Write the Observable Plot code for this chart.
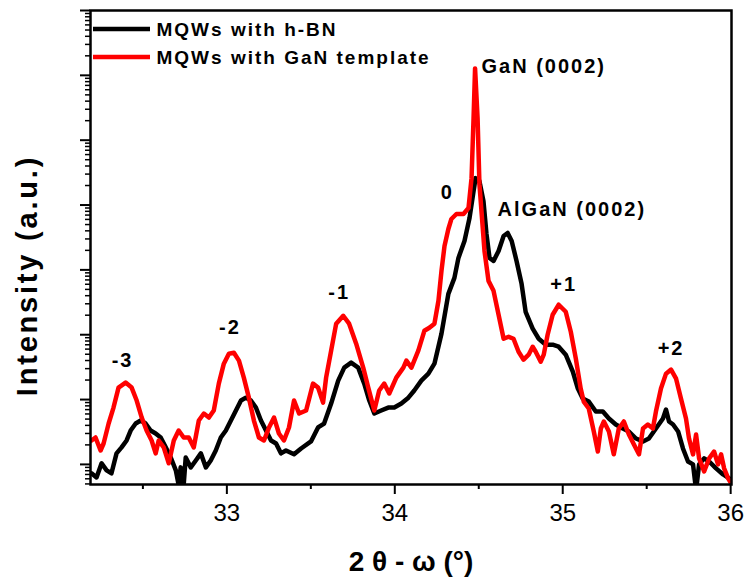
<!DOCTYPE html>
<html><head><meta charset="utf-8">
<script src="https://cdn.jsdelivr.net/npm/d3@7"></script>
<script src="https://cdn.jsdelivr.net/npm/@observablehq/plot@0.6"></script>
<style>body{margin:0;background:#fff;}</style>
</head><body><div id="chart"></div>
<script>
// ---- Series: MQWs with GaN template (red) ----
const ganTheta = [32.194,32.218,32.248,32.266,32.296,32.325,32.355,32.397,32.433,32.463,32.493,32.522,32.552,32.576,32.594,32.624,32.654,32.684,32.713,32.743,32.773,32.803,32.833,32.863,32.893,32.922,32.952,32.982,33.012,33.042,33.072,33.101,33.131,33.161,33.191,33.221,33.251,33.281,33.310,33.340,33.370,33.400,33.430,33.472,33.513,33.543,33.573,33.591,33.621,33.651,33.693,33.728,33.770,33.812,33.842,33.878,33.907,33.937,33.967,34.009,34.051,34.069,34.099,34.140,34.176,34.206,34.236,34.260,34.278,34.296,34.319,34.337,34.367,34.409,34.439,34.457,34.469,34.478,34.493,34.504,34.522,34.534,34.558,34.588,34.618,34.648,34.678,34.707,34.737,34.767,34.797,34.821,34.839,34.869,34.887,34.910,34.940,34.976,35.018,35.048,35.078,35.107,35.125,35.155,35.185,35.209,35.227,35.245,35.275,35.304,35.334,35.364,35.394,35.424,35.454,35.478,35.507,35.537,35.555,35.585,35.615,35.645,35.675,35.704,35.734,35.752,35.776,35.794,35.812,35.842,35.872,35.901,35.925,35.943,35.961,35.985,36.003];
const ganIntensity = [2.34,2.60,1.64,2.10,4.27,7.53,15.3,18.3,15.3,9.66,5.28,3.33,2.34,1.48,2.34,1.83,1.04,2.34,3.33,2.60,2.60,1.83,4.75,6.09,5.28,6.77,17.6,35.8,51.0,52.8,39.8,21.8,10.7,4.75,2.60,2.34,3.71,5.28,3.00,2.34,3.71,9.66,6.09,6.77,17.6,15.3,8.99,21.8,56.7,148,196,148,72.7,31.1,15.3,6.77,13.8,17.6,12.4,21.8,31.1,39.8,31.1,56.7,115,128,148,334,966,2340,4270,6090,7270,7270,8990,26000,218000,1280000,218000,21000,5100,1960,677,475,203,86.7,93.1,86.7,54.7,41.2,49.2,65.3,54.7,38.4,49.2,100,203,290,226,111,42.7,14.8,9.31,7.27,3.22,1.58,3.58,4.59,3.22,1.43,3.58,4.59,2.89,2.03,1.43,3.58,4.12,3.58,6.54,14.8,25.1,29.0,21.0,10.4,5.10,2.51,1.43,2.89,1.24,0.78,1.24,1.58,1.0,1.43,0.87,0.61,0.51];

// ---- Series: MQWs with h-BN (black) ----
const hbnTheta = [32.194,32.224,32.254,32.284,32.313,32.343,32.373,32.403,32.427,32.457,32.487,32.516,32.546,32.576,32.606,32.636,32.666,32.696,32.713,32.725,32.743,32.755,32.785,32.815,32.845,32.875,32.904,32.934,32.964,32.994,33.024,33.054,33.084,33.113,33.143,33.173,33.203,33.233,33.263,33.293,33.322,33.352,33.400,33.442,33.501,33.543,33.579,33.621,33.663,33.699,33.740,33.782,33.818,33.848,33.878,33.919,33.961,33.997,34.039,34.081,34.116,34.158,34.200,34.236,34.278,34.319,34.355,34.379,34.415,34.445,34.469,34.481,34.504,34.528,34.546,34.564,34.588,34.618,34.648,34.672,34.696,34.725,34.755,34.779,34.821,34.857,34.899,34.940,34.976,35.018,35.060,35.090,35.119,35.155,35.197,35.239,35.275,35.316,35.358,35.394,35.436,35.478,35.513,35.555,35.597,35.615,35.633,35.657,35.687,35.716,35.746,35.776,35.794,35.812,35.842,35.872,35.913,35.955,35.991];
const hbnIntensity = [0.73,0.63,1.04,0.81,0.73,1.48,1.83,2.34,3.33,4.27,4.75,4.27,3.33,3.00,2.60,1.83,1.28,0.81,0.48,0.90,0.49,1.28,0.90,1.15,1.48,0.90,1.15,1.64,2.60,3.33,4.75,6.77,9.66,10.7,9.66,7.53,4.75,3.33,2.34,2.10,1.48,1.64,1.43,1.76,2.26,3.71,4.27,8.68,19.6,31.1,37.1,31.1,17.6,9.66,6.09,6.77,7.53,7.53,8.68,10.7,13.8,19.6,25.1,35.8,104,427,753,1530,2790,6310,16400,26000,23400,11500,3580,1530,1375,1960,3335,3710,2790,1375,609,226,124,86.7,70.1,70.1,65.3,49.2,27.0,14.8,10.4,9.31,6.54,6.54,5.10,4.12,3.58,3.22,2.51,2.26,2.51,3.58,5.10,7.02,4.59,4.12,3.22,1.76,1.11,1.0,0.40,1.0,1.24,1.11,0.87,0.70,0.61];

// ---- Axis ticks ----
const xTicks = [33, 34, 35, 36];
const xMinorTicks = [32.5, 33.5, 34.5, 35.5];
const yDecades = [1, 10, 100, 1e3, 1e4, 1e5, 1e6, 1e7];
const yMultipliers = [2, 3, 4, 5, 6, 7, 8, 9];

// ---- Legend & annotations ----
const seriesNames = ["MQWs with h-BN", "MQWs with GaN template"];
const seriesColors = ["#000000", "#ff0000"];
// peak labels (left-aligned)
const peakText = ["GaN (0002)", "AlGaN (0002)"];
const peakTheta = [34.516, 34.612];
const peakIntensity = [1.07e6, 6770];
// satellite order labels (centred)
const orderText = ["0", "-1", "-2", "-3", "+1", "+2"];
const orderTheta = [34.313, 33.669, 33.018, 32.379, 35.006, 35.645];
const orderIntensity = [12400, 358, 104, 32.2, 475, 49.2];

const toRows = (t, v) => t.map((d, i) => ({theta: d, intensity: v[i]}));
const hbnRows = toRows(hbnTheta, hbnIntensity);
const ganRows = toRows(ganTheta, ganIntensity);
const peakRows = peakText.map((s, i) => ({text: s, theta: peakTheta[i], intensity: peakIntensity[i]}));
const orderRows = orderText.map((s, i) => ({text: s, theta: orderTheta[i], intensity: orderIntensity[i]}));
const yMinor = [];
for (const d of [0.1, ...yDecades]) for (const m of yMultipliers) { const v = d * m; if (v >= 0.49 && v <= 1e7) yMinor.push(v); }

const FONT = "'Liberation Sans', Arial, Helvetica, sans-serif";
const annStyle = {fontSize: 20, fontWeight: "bold", fill: "#000", lineAnchor: "bottom", ariaDescription: "ann"};

const chart = Plot.plot({
  width: 748, height: 582,
  marginLeft: 90, marginRight: 17, marginTop: 10, marginBottom: 98,
  style: {fontFamily: FONT, background: "#fff", color: "#000"},
  x: {domain: [32.188, 36.005]},
  y: {type: "log", domain: [0.49, 1e7]},
  marks: [
    Plot.line(hbnRows, {x: "theta", y: "intensity", stroke: seriesColors[0], strokeWidth: 4.5, strokeLinejoin: "round", clip: true}),
    Plot.line(ganRows, {x: "theta", y: "intensity", stroke: seriesColors[1], strokeWidth: 4.5, strokeLinejoin: "round", clip: true}),
    Plot.frame({stroke: "#000", strokeWidth: 2.5}),
    Plot.axisX(xMinorTicks, {tickSize: 5, strokeWidth: 2, tickFormat: () => "", label: null}),
    Plot.axisX(xTicks, {tickSize: 10, strokeWidth: 2, fontSize: 24, tickPadding: 9, tickFormat: d => String(d), label: null}),
    Plot.axisY(yMinor, {tickSize: 5, strokeWidth: 1.5, tickFormat: () => "", label: null}),
    Plot.axisY(yDecades, {tickSize: 10, strokeWidth: 2, tickFormat: () => "", label: null}),
    Plot.text(peakRows, {x: "theta", y: "intensity", text: "text", textAnchor: "start", ...annStyle}),
    Plot.text(orderRows, {x: "theta", y: "intensity", text: "text", textAnchor: "middle", ...annStyle}),
    Plot.text(["Intensity (a.u.)"], {frameAnchor: "left", textAnchor: "middle", lineAnchor: "middle", rotate: -90, dx: -63, dy: 28, fontSize: 29, fontWeight: "bold", fill: "#000", ariaDescription: "ylab"}),
    Plot.text(["2 θ - ω (°)"], {frameAnchor: "bottom", textAnchor: "middle", lineAnchor: "middle", dy: 78, fontSize: 28, fontWeight: "bold", fill: "#000"}),
    Plot.text([seriesNames[0]], {frameAnchor: "top-left", textAnchor: "start", lineAnchor: "middle", dx: 66, dy: 19, fontSize: 19, fontWeight: "bold", fill: "#000", ariaDescription: "legend"}),
    Plot.text([seriesNames[1]], {frameAnchor: "top-left", textAnchor: "start", lineAnchor: "middle", dx: 66, dy: 47, fontSize: 19, fontWeight: "bold", fill: "#000", ariaDescription: "legend"})
  ]
});
document.getElementById("chart").appendChild(chart);

// legend swatches (positioned relative to the plot frame)
const svg = d3.select(chart);
[29, 57].forEach((y, i) => {
  svg.append("line").attr("x1", 93).attr("x2", 150).attr("y1", y).attr("y2", y)
    .attr("stroke", seriesColors[i]).attr("stroke-width", 4.5);
});
svg.selectAll('g[aria-description="legend"]').attr("letter-spacing", "2px");
svg.selectAll('g[aria-description="ann"]').attr("letter-spacing", "2px");
svg.selectAll('g[aria-description="ylab"]').attr("letter-spacing", "2.8px");
</script>
</body></html>
